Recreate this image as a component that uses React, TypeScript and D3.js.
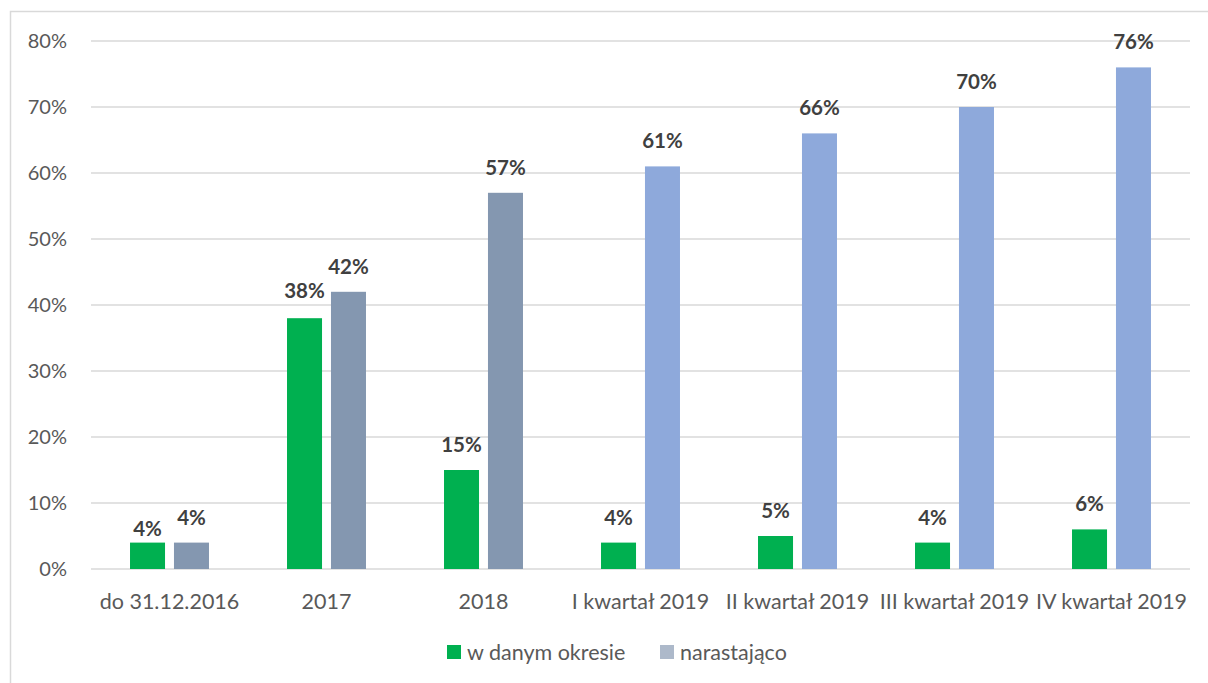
import React from 'react';
import * as d3 from 'd3';

const categories = ['do 31.12.2016', '2017', '2018', 'I kwartał 2019', 'II kwartał 2019', 'III kwartał 2019', 'IV kwartał 2019'];
const periodValues = [4, 38, 15, 4, 5, 4, 6];
const cumulativeValues = [4, 42, 57, 61, 66, 70, 76];
// first three cumulative bars are darker grey-blue, rest lighter blue
const cumulativeColors = ['#8497B0', '#8497B0', '#8497B0', '#8EA9DB', '#8EA9DB', '#8EA9DB', '#8EA9DB'];
const yTicks = [0, 10, 20, 30, 40, 50, 60, 70, 80];
const seriesNames = ['w danym okresie', 'narastająco'];

const W = 1208;
const H = 683;
const FONT = 'Lato, "Open Sans", sans-serif';

// the first green label sits lower than the others in the original
const periodLabelGap = (i: number) => (i === 0 ? 7 : i === 1 ? 20 : 18);

const App: React.FC = () => {
  const left = 91, right = 1190, top = 41, bottom = 569;

  const x = d3.scaleBand<string>().domain(categories).range([left, right]).paddingInner(0).paddingOuter(0);
  const y = d3.scaleLinear().domain([0, 80]).range([bottom, top]);

  const step = x.step();
  const barW = step * 0.223;
  const gap = step * 0.057;
  const offset = (step - 2 * barW - gap) / 2;

  return (
    <svg width={W} height={H} style={{position: 'absolute', left: 0, top: 0}} fontFamily={FONT}>
      <rect x={0} y={0} width={W} height={H} fill="#fff"/>
      <rect x={10.5} y={11.5} width={W + 20} height={H + 20} fill="none" stroke="#d9d9d9" strokeWidth={1.5}/>

      {yTicks.map(t => (
        <g key={t}>
          <line x1={left} x2={right} y1={y(t)} y2={y(t)} stroke="#d9d9d9" strokeWidth={1.5}/>
          <text x={67} y={y(t)} dy="0.35em" textAnchor="end" fontSize={20} fill="#595959">{t}%</text>
        </g>
      ))}

      {categories.map((c, i) => {
        const x0 = x(c)! + offset;
        const x1 = x0 + barW + gap;
        return (
          <g key={c}>
            <rect x={x0} y={y(periodValues[i])} width={barW} height={y(0) - y(periodValues[i])} fill="#00B050"/>
            <rect x={x1} y={y(cumulativeValues[i])} width={barW} height={y(0) - y(cumulativeValues[i])} fill={cumulativeColors[i]}/>
            <text x={x0 + barW / 2} y={y(periodValues[i]) - periodLabelGap(i)} textAnchor="middle" fontSize={20.5} fontWeight="bold" fill="#404040">{periodValues[i]}%</text>
            <text x={x1 + barW / 2} y={y(cumulativeValues[i]) - 18} textAnchor="middle" fontSize={20.5} fontWeight="bold" fill="#404040">{cumulativeValues[i]}%</text>
            <text x={x(c)! + step / 2} y={601} dy="0.35em" textAnchor="middle" fontSize={21.5} fill="#595959">{c}</text>
          </g>
        );
      })}

      <g>
        <rect x={447} y={645} width={14} height={14} fill="#00B050"/>
        <text x={467} y={652} dy="0.35em" fontSize={21.5} fill="#595959">{seriesNames[0]}</text>
        <rect x={660} y={645} width={14} height={14} fill="#ADB9CA"/>
        <text x={680} y={652} dy="0.35em" fontSize={21.5} fill="#595959">{seriesNames[1]}</text>
      </g>
    </svg>
  );
};

export default App;
